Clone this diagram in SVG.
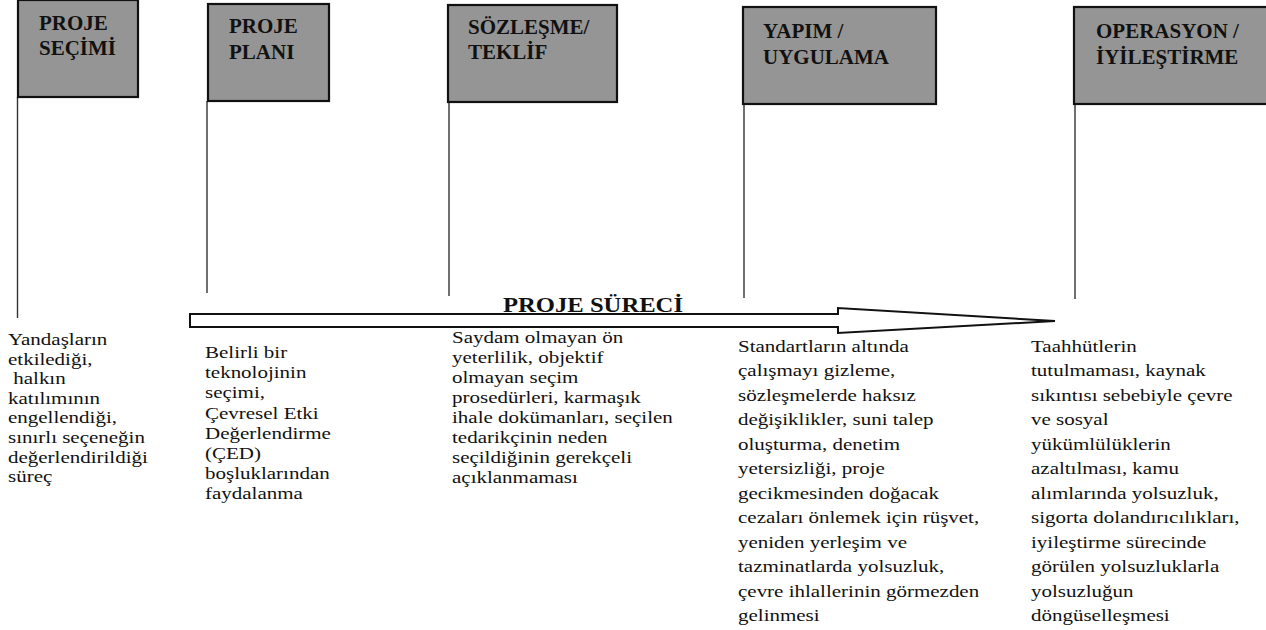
<svg xmlns="http://www.w3.org/2000/svg" width="1266" height="630" viewBox="0 0 1266 630">
<style>
.box{fill:#959595;stroke:#111;stroke-width:2.2}
.title{font-family:"Liberation Serif","Times New Roman",serif;font-weight:bold;font-size:21px;fill:#111}
.body{font-family:"Liberation Serif","Times New Roman",serif;font-size:17.5px;fill:#111}
.pole{stroke:#333;stroke-width:1.4;fill:none}
.arrow{fill:#fff;stroke:#111;stroke-width:2}
</style>
<rect width="1266" height="630" fill="#fff"/>
<g id="connectors">
<line class="pole" x1="17.5" y1="97" x2="17.5" y2="318"/>
<line class="pole" x1="207" y1="101" x2="207" y2="293"/>
<line class="pole" x1="449" y1="103" x2="449" y2="296"/>
<line class="pole" x1="744" y1="105" x2="744" y2="298"/>
<line class="pole" x1="1075" y1="105" x2="1075" y2="299"/>
<polygon class="arrow" points="190,314 838,314 838,308 1055,321 838,333 838,327 190,327"/>
<text class="title" x="503" y="312" font-size="24" textLength="180" lengthAdjust="spacingAndGlyphs">PROJE SÜRECİ</text>
</g>
<g id="proje-secimi">
<rect class="box" x="18" y="0" width="120" height="97"/>
<text class="title" x="39" y="30">PROJE</text>
<text class="title" x="39" y="55">SEÇİMİ</text>
<g transform="translate(8,0) scale(1.2,1)">
<text class="body" y="345">
<tspan x="0">Yandaşların</tspan>
<tspan x="0" dy="19.6">etkilediği,</tspan>
<tspan x="0" dy="19.6" xml:space="preserve"> halkın</tspan>
<tspan x="0" dy="19.6">katılımının</tspan>
<tspan x="0" dy="19.6">engellendiği,</tspan>
<tspan x="0" dy="19.6">sınırlı seçeneğin</tspan>
<tspan x="0" dy="19.6">değerlendirildiği</tspan>
<tspan x="0" dy="19.6">süreç</tspan>
</text>
</g>
</g>
<g id="proje-plani">
<rect class="box" x="208" y="4" width="121" height="97"/>
<text class="title" x="229" y="33">PROJE</text>
<text class="title" x="229" y="59">PLANI</text>
<g transform="translate(205,0) scale(1.2,1)">
<text class="body" y="358">
<tspan x="0">Belirli bir</tspan>
<tspan x="0" dy="20.2">teknolojinin</tspan>
<tspan x="0" dy="20.2">seçimi,</tspan>
<tspan x="0" dy="20.2">Çevresel Etki</tspan>
<tspan x="0" dy="20.2">Değerlendirme</tspan>
<tspan x="0" dy="20.2">(ÇED)</tspan>
<tspan x="0" dy="20.2">boşluklarından</tspan>
<tspan x="0" dy="20.2">faydalanma</tspan>
</text>
</g>
</g>
<g id="sozlesme-teklif">
<rect class="box" x="448" y="5" width="169" height="97"/>
<text class="title" x="468" y="34">SÖZLEŞME/</text>
<text class="title" x="468" y="59">TEKLİF</text>
<g transform="translate(452,0) scale(1.2,1)">
<text class="body" y="343">
<tspan x="0">Saydam olmayan ön</tspan>
<tspan x="0" dy="20">yeterlilik, objektif</tspan>
<tspan x="0" dy="20">olmayan seçim</tspan>
<tspan x="0" dy="20">prosedürleri, karmaşık</tspan>
<tspan x="0" dy="20">ihale dokümanları, seçilen</tspan>
<tspan x="0" dy="20">tedarikçinin neden</tspan>
<tspan x="0" dy="20">seçildiğinin gerekçeli</tspan>
<tspan x="0" dy="20">açıklanmaması</tspan>
</text>
</g>
</g>
<g id="yapim-uygulama">
<rect class="box" x="743" y="7" width="193" height="97"/>
<text class="title" x="763" y="38">YAPIM /</text>
<text class="title" x="763" y="64">UYGULAMA</text>
<g transform="translate(738,0) scale(1.2,1)">
<text class="body" y="352">
<tspan x="0">Standartların altında</tspan>
<tspan x="0" dy="24.5">çalışmayı gizleme,</tspan>
<tspan x="0" dy="24.5">sözleşmelerde haksız</tspan>
<tspan x="0" dy="24.5">değişiklikler, suni talep</tspan>
<tspan x="0" dy="24.5">oluşturma, denetim</tspan>
<tspan x="0" dy="24.5">yetersizliği, proje</tspan>
<tspan x="0" dy="24.5">gecikmesinden doğacak</tspan>
<tspan x="0" dy="24.5">cezaları önlemek için rüşvet,</tspan>
<tspan x="0" dy="24.5">yeniden yerleşim ve</tspan>
<tspan x="0" dy="24.5">tazminatlarda yolsuzluk,</tspan>
<tspan x="0" dy="24.5">çevre ihlallerinin görmezden</tspan>
<tspan x="0" dy="24.5">gelinmesi</tspan>
</text>
</g>
</g>
<g id="operasyon-iyilestirme">
<rect class="box" x="1074" y="7" width="210" height="97"/>
<text class="title" x="1096" y="38">OPERASYON /</text>
<text class="title" x="1096" y="64">İYİLEŞTİRME</text>
<g transform="translate(1031,0) scale(1.2,1)">
<text class="body" y="352">
<tspan x="0">Taahhütlerin</tspan>
<tspan x="0" dy="24.5">tutulmaması, kaynak</tspan>
<tspan x="0" dy="24.5">sıkıntısı sebebiyle çevre</tspan>
<tspan x="0" dy="24.5">ve sosyal</tspan>
<tspan x="0" dy="24.5">yükümlülüklerin</tspan>
<tspan x="0" dy="24.5">azaltılması, kamu</tspan>
<tspan x="0" dy="24.5">alımlarında yolsuzluk,</tspan>
<tspan x="0" dy="24.5">sigorta dolandırıcılıkları,</tspan>
<tspan x="0" dy="24.5">iyileştirme sürecinde</tspan>
<tspan x="0" dy="24.5">görülen yolsuzluklarla</tspan>
<tspan x="0" dy="24.5">yolsuzluğun</tspan>
<tspan x="0" dy="24.5">döngüselleşmesi</tspan>
</text>
</g>
</g>
</svg>
